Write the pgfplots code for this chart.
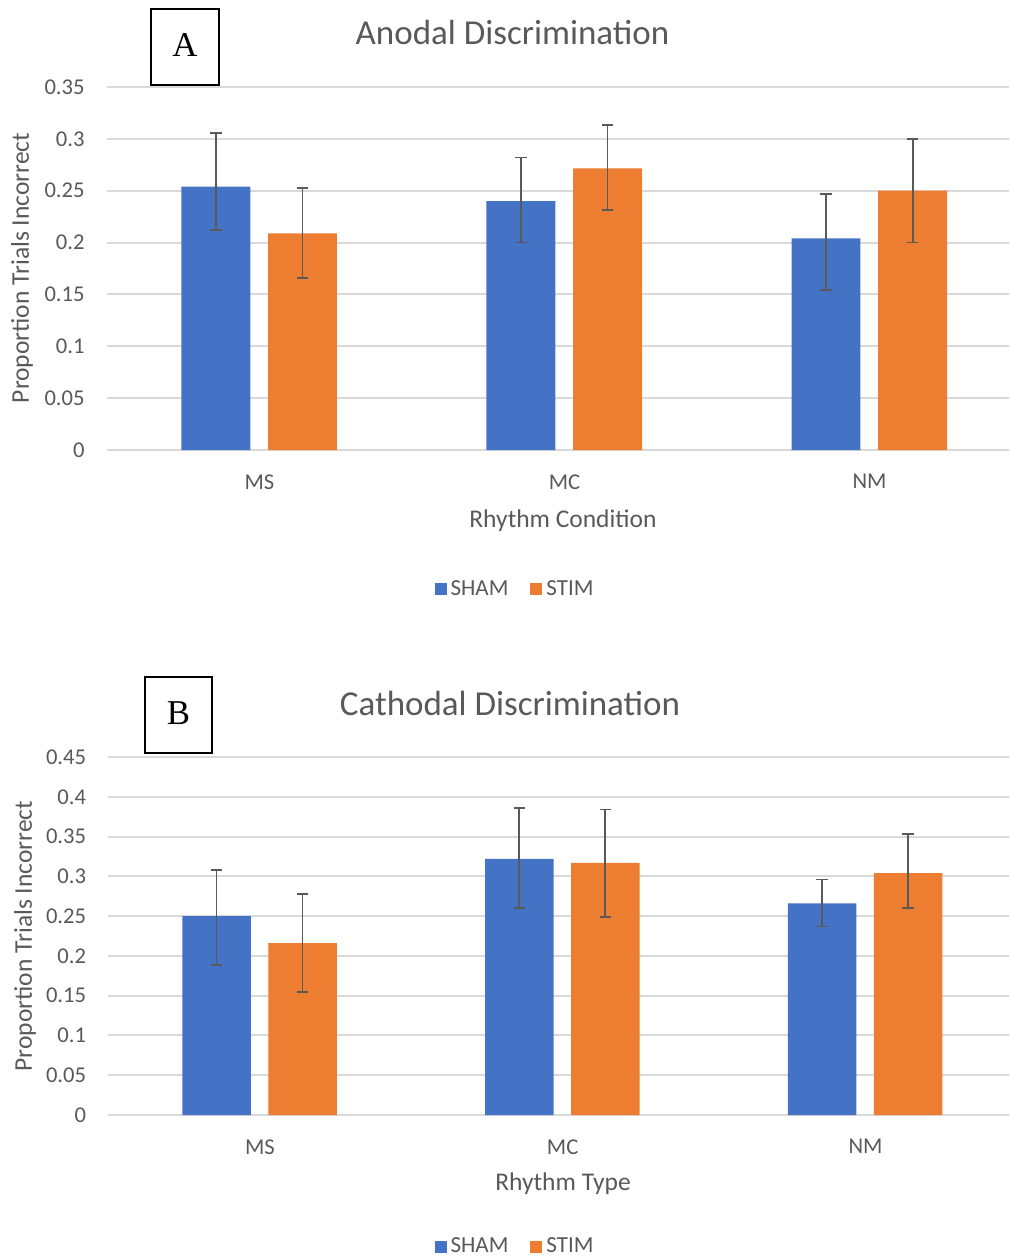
\documentclass[border=0pt]{standalone}
\usepackage{pgfplots}
\pgfplotsset{compat=1.18}
\usepackage{fontspec}
\setmainfont{Carlito}
\newfontfamily\seriffont{Liberation Serif}
\definecolor{txt}{HTML}{595959}
\definecolor{sham}{HTML}{4472C4}
\definecolor{stim}{HTML}{ED7D31}
\definecolor{gridc}{HTML}{D9D9D9}
\definecolor{errc}{HTML}{595959}
\pgfplotsset{
  mybar/.style={
    scale only axis,
    axis line style={draw=none},
    tick style={draw=none},
    major tick length=0pt,
    ymajorgrids,
    major grid style={gridc, line width=1pt},
    xmin=-0.5, ymin=0,
    ybar, bar width=0.226,
    xtick={0,1,2}, xticklabels={MS,MC,NM},
    ticklabel style={font=\fontsize{11.3}{13}\selectfont, text=txt},
    /pgf/number format/fixed,
    /pgf/number format/precision=2,
    /pgf/number format/assume math mode=true,
    yticklabel style={inner sep=0pt, anchor=east, xshift=-11pt},
    xticklabel style={inner sep=0pt, anchor=north, yshift=-12pt},
    xlabel style={anchor=center, font=\fontsize{12.75}{15}\selectfont, text=txt},
    ylabel style={anchor=center, font=\fontsize{12.75}{15}\selectfont, text=txt},
    title style={anchor=center, font=\fontsize{17.5}{20}\selectfont, text=txt},
    legend style={draw=none, fill=none, legend columns=2, anchor=center,
      font=\fontsize{11.5}{13}\selectfont, text=txt,
      /tikz/every even column/.append style={column sep=9pt}},
    legend image code/.code={\fill[##1] (0pt,-3pt) rectangle (6pt,3pt);},
  },
  myerr/.style={
    error bars/y dir=both,
    error bars/y explicit,
    error bars/error bar style={errc, line width=0.9pt},
    error bars/error mark options={errc, line width=0.9pt, mark size=2.9pt, rotate=90},
  },
}
\begin{document}
\begin{tikzpicture}
\useasboundingbox (0,0) rectangle (504.5pt,-630pt);
% ---------- A ----------
\begin{axis}[mybar,
  at={(53.5pt,-225pt)}, anchor=south west,
  width=451pt, height=181.5pt,
  xmax=2.457, ymax=0.35,
  ytick={0,0.05,0.1,0.15,0.2,0.25,0.3,0.35},
  title={Anodal Discrimination},
  title style={at={(axis description cs:0.4496,1.1185)}},
  xlabel={Rhythm Condition},
  xlabel style={at={(axis description cs:0.5055,-0.195)}},
  ylabel={Proportion Trials Incorrect},
  ylabel style={at={(axis description cs:-0.0942,0.5014)}},
  legend style={at={(axis description cs:0.4535,-0.383)}},
]
\addplot[fill=sham, draw=none, bar shift=-0.143, myerr] coordinates {
  (0,0.254) += (0,0.052) -= (0,0.042)
  (1,0.240) += (0,0.042) -= (0,0.040)
  (2,0.204) += (0,0.043) -= (0,0.050)
};
\addplot[fill=stim, draw=none, bar shift=0.141, myerr] coordinates {
  (0,0.209) += (0,0.044) -= (0,0.043)
  (1,0.2715) += (0,0.042) -= (0,0.040)
  (2,0.250) += (0,0.050) -= (0,0.050)
};
\legend{SHAM,STIM}
\end{axis}
\draw[black, line width=0.8pt] (75.5pt,-4.5pt) rectangle (109.5pt,-42.5pt);
\node[font=\seriffont\fontsize{17.4}{20}\selectfont] at (92.5pt,-22.5pt) {A};
% ---------- B ----------
\begin{axis}[mybar,
  at={(54.25pt,-557.5pt)}, anchor=south west,
  width=450.25pt, height=179pt,
  xmax=2.474, ymax=0.45,
  ytick={0,0.05,0.1,0.15,0.2,0.25,0.3,0.35,0.4,0.45},
  title={Cathodal Discrimination},
  title style={at={(axis description cs:0.4459,1.117)}},
  xlabel={Rhythm Type},
  xlabel style={at={(axis description cs:0.5047,-0.1927)}},
  ylabel={Proportion Trials Incorrect},
  ylabel style={at={(axis description cs:-0.0927,0.5)}},
  legend style={at={(axis description cs:0.4526,-0.368)}},
]
\addplot[fill=sham, draw=none, bar shift=-0.143, myerr] coordinates {
  (0,0.250) += (0,0.058) -= (0,0.061)
  (1,0.322) += (0,0.064) -= (0,0.062)
  (2,0.266) += (0,0.030) -= (0,0.029)
};
\addplot[fill=stim, draw=none, bar shift=0.141, myerr] coordinates {
  (0,0.216) += (0,0.062) -= (0,0.061)
  (1,0.317) += (0,0.067) -= (0,0.068)
  (2,0.304) += (0,0.049) -= (0,0.044)
};
\legend{SHAM,STIM}
\end{axis}
\draw[black, line width=0.8pt] (72.5pt,-338.5pt) rectangle (106pt,-376.5pt);
\node[font=\seriffont\fontsize{17.4}{20}\selectfont] at (89.25pt,-356.5pt) {B};
\end{tikzpicture}
\end{document}
